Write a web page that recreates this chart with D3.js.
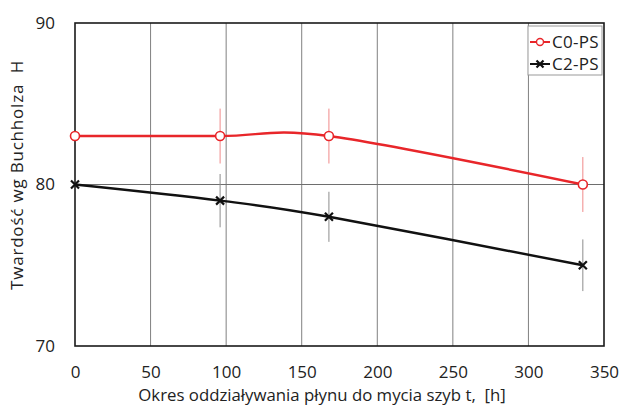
<!DOCTYPE html>
<html>
<head>
<meta charset="utf-8">
<script src="https://cdn.jsdelivr.net/npm/d3@7"></script>
<style>
    body { margin: 0; background: #fff; }
    text { font-family: "Open Sans", sans-serif; fill: #222; }
</style>
</head>
<body>
<div id="chart"></div>
<script>
// czas oddzialywania [h]
const hours = [0, 96, 168, 336];
const c0Values = [83, 83, 83, 80];
const c0Errors = [0, 1.7, 1.7, 1.7];
const c2Values = [80, 79, 78, 75];
const c2Errors = [0, 1.65, 1.55, 1.6];
const xTicks = [0, 50, 100, 150, 200, 250, 300, 350];
const yTicks = [70, 80, 90];
const seriesNames = ['C0-PS', 'C2-PS'];

const width = 622;
const height = 410;
const margin = { top: 23, right: 18, bottom: 64, left: 75 };

const svg = d3.select('#chart').append('svg')
    .attr('width', width)
    .attr('height', height);

const xScale = d3.scaleLinear()
    .domain([0, 350])
    .range([margin.left, width - margin.right]);

const yScale = d3.scaleLinear()
    .domain([70, 90])
    .range([height - margin.bottom, margin.top]);

// siatka pionowa
svg.append('g')
    .selectAll('line')
    .data(xTicks.slice(1, -1))
    .enter().append('line')
    .attr('x1', d => xScale(d))
    .attr('x2', d => xScale(d))
    .attr('y1', yScale(90))
    .attr('y2', yScale(70))
    .attr('stroke', '#808080')
    .attr('stroke-width', 1);

// siatka pozioma
svg.append('g')
    .selectAll('line')
    .data(yTicks.slice(1, -1))
    .enter().append('line')
    .attr('x1', xScale(0))
    .attr('x2', xScale(350))
    .attr('y1', d => yScale(d))
    .attr('y2', d => yScale(d))
    .attr('stroke', '#6e6e6e')
    .attr('stroke-width', 1);

// osie
const xAxis = svg.append('g')
    .attr('transform', `translate(0, ${yScale(70)})`)
    .call(d3.axisBottom(xScale).tickValues(xTicks).tickSize(0).tickPadding(20));
const yAxis = svg.append('g')
    .attr('transform', `translate(${xScale(0)}, 0)`)
    .call(d3.axisLeft(yScale).tickValues(yTicks).tickSize(0).tickPadding(20));
[xAxis, yAxis].forEach(ax => {
    ax.select('.domain').remove();
    ax.selectAll('text').style('font-size', '17px').attr('fill', '#222');
});

// ramka
svg.append('rect')
    .attr('x', xScale(0))
    .attr('y', yScale(90))
    .attr('width', xScale(350) - xScale(0))
    .attr('height', yScale(70) - yScale(90))
    .attr('fill', 'none')
    .attr('stroke', '#1a1a1a')
    .attr('stroke-width', 1.6);

// slupki bledow
function drawErrors(values, errors, color) {
    svg.append('g')
        .selectAll('line')
        .data(hours.map((h, i) => ({ h: h, v: values[i], e: errors[i] })).filter(d => d.e > 0))
        .enter().append('line')
        .attr('x1', d => xScale(d.h))
        .attr('x2', d => xScale(d.h))
        .attr('y1', d => yScale(d.v + d.e))
        .attr('y2', d => yScale(d.v - d.e))
        .attr('stroke', color)
        .attr('stroke-width', 1);
}
drawErrors(c0Values, c0Errors, '#f08a8a');
drawErrors(c2Values, c2Errors, '#8c8c8c');

const lineGen = d3.line()
    .x(d => xScale(d[0]))
    .y(d => yScale(d[1]))
    .curve(d3.curveCatmullRom.alpha(0));

svg.append('path')
    .attr('d', lineGen(d3.zip(hours, c2Values)))
    .attr('fill', 'none')
    .attr('stroke', '#111')
    .attr('stroke-width', 2.4);

svg.append('path')
    .attr('d', lineGen(d3.zip(hours, c0Values)))
    .attr('fill', 'none')
    .attr('stroke', '#e8262a')
    .attr('stroke-width', 2.4);

function drawCross(g, x, y, s) {
    g.append('path')
        .attr('d', `M${x - s},${y - s}L${x + s},${y + s}M${x - s},${y + s}L${x + s},${y - s}`)
        .attr('stroke', '#111')
        .attr('stroke-width', 2.2);
}

const c2Markers = svg.append('g');
hours.forEach((h, i) => drawCross(c2Markers, xScale(h), yScale(c2Values[i]), 4));

svg.append('g')
    .selectAll('circle')
    .data(d3.zip(hours, c0Values))
    .enter().append('circle')
    .attr('cx', d => xScale(d[0]))
    .attr('cy', d => yScale(d[1]))
    .attr('r', 4.5)
    .attr('fill', '#fff')
    .attr('stroke', '#e8262a')
    .attr('stroke-width', 1.6);

// legenda
const legend = svg.append('g').attr('transform', 'translate(528, 26)');
legend.append('rect')
    .attr('width', 74)
    .attr('height', 49)
    .attr('fill', '#fff')
    .attr('stroke', '#999')
    .attr('stroke-width', 1);
seriesNames.forEach((name, i) => {
    const y = 16 + i * 22;
    const color = i === 0 ? '#e8262a' : '#111';
    legend.append('line')
        .attr('x1', 2).attr('x2', 22)
        .attr('y1', y).attr('y2', y)
        .attr('stroke', color)
        .attr('stroke-width', 2);
    if (i === 0) {
        legend.append('circle')
            .attr('cx', 12).attr('cy', y).attr('r', 3.5)
            .attr('fill', '#fff').attr('stroke', color).attr('stroke-width', 1.4);
    } else {
        drawCross(legend, 12, y, 3.5);
    }
    legend.append('text')
        .attr('x', 24)
        .attr('y', y + 6)
        .style('font-size', '17px')
        .style('letter-spacing', '0.3px')
        .text(name);
});

// tytuly osi
svg.append('text')
    .attr('x', 322)
    .attr('y', 401)
    .attr('text-anchor', 'middle')
    .style('font-size', '16.8px')
    .text('Okres oddziaływania płynu do mycia szyb t,\u00a0\u00a0[h]');

svg.append('text')
    .attr('transform', 'translate(23, 175) rotate(-90)')
    .attr('text-anchor', 'middle')
    .style('font-size', '17px')
    .style('letter-spacing', '0.8px')
    .text('Twardość wg Buchholza\u00a0\u00a0H');
</script>
</body>
</html>
